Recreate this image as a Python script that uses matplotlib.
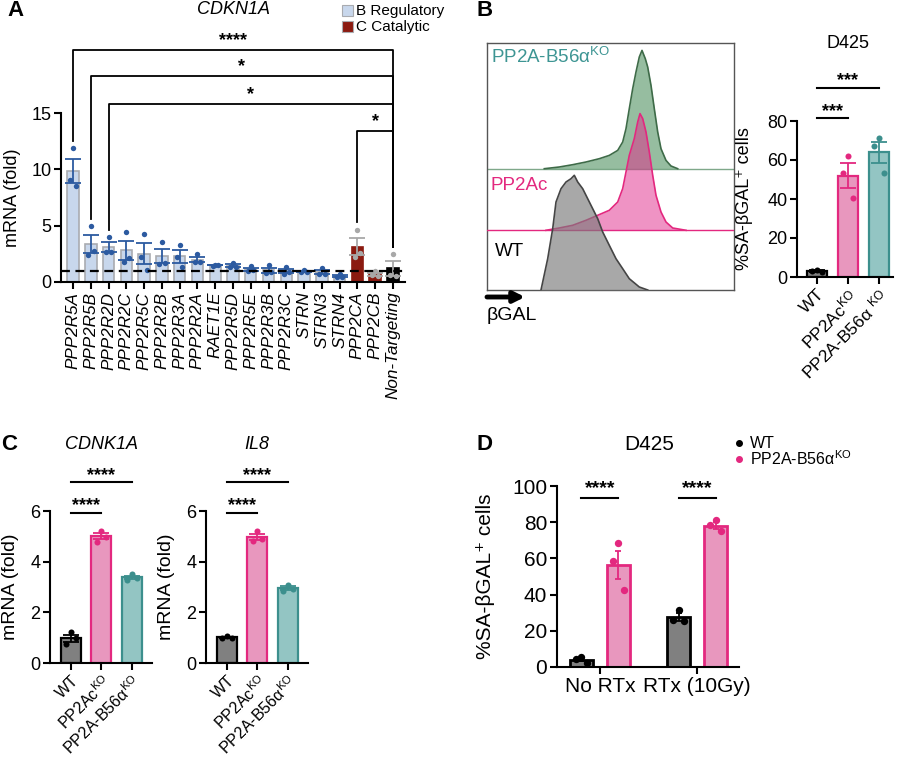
import matplotlib.pyplot as plt
import numpy as np

# ---------------- data ----------------
# panel A: CDKN1A mRNA after knockdown of each PP2A subunit (3 replicates)
genes = ['PPP2R5A', 'PPP2R5B', 'PPP2R2D', 'PPP2R2C', 'PPP2R5C', 'PPP2R2B',
         'PPP2R3A', 'PPP2R2A', 'RAET1E', 'PPP2R5D', 'PPP2R5E', 'PPP2R3B',
         'PPP2R3C', 'STRN', 'STRN3', 'STRN4', 'PPP2CA', 'PPP2CB', 'Non-Targeting']
gene_kind = ['B'] * 16 + ['C', 'C', 'NT']
cdkn1a_reps = [[11.9, 9.05, 8.55], [4.95, 2.4, 2.75], [4.0, 2.67, 2.67],
               [4.46, 1.78, 2.17], [4.22, 2.23, 1.1], [3.57, 1.64, 1.7],
               [3.24, 2.23, 1.34], [2.45, 1.75, 1.75], [1.5, 1.45, 1.5],
               [1.7, 1.3, 1.35], [1.4, 0.95, 1.05], [1.5, 0.8, 0.85],
               [1.3, 0.75, 0.85], [1.1, 0.85, 0.85], [1.2, 0.7, 0.75],
               [0.7, 0.4, 0.45], [4.65, 2.25, 2.55], [0.95, 0.65, 0.5],
               [2.45, 0.6, 0.55]]
comparisons_a = [(0, 18, '****'), (1, 18, '*'), (2, 18, '*'), (16, 18, '*')]

# panel B: flow histograms (betaGAL intensity, counts) and SA-bGAL bars
wt_hist_x = [54, 60.7, 65.7, 69, 74, 79, 84, 87.3, 90.7, 95.7, 100.7, 105.7,
             110.7, 115.7, 122.3, 129, 135.7, 142.3, 152.3, 160.7]
wt_hist_y = [0, 31.3, 61.3, 88, 101.3, 108, 111.3, 114.7, 108, 101.3, 91.3,
             81.3, 71.3, 58, 44.7, 31.3, 21.3, 11.3, 3, 0]
pc_hist_x = [59, 72.3, 85.7, 99, 112.3, 122.3, 130.7, 135.7, 139, 142.3, 147.3,
             150.7, 153, 155.7, 159, 162.3, 165.7, 169, 174, 179, 185.7, 199]
pc_hist_y = [0, 2.3, 5, 10, 15.7, 20, 28.3, 41.7, 58.3, 75, 91.7, 108.3, 116.7,
             111.7, 98.3, 78.3, 55, 35, 18.3, 8.3, 2.3, 0]
b56_hist_x = [57.3, 72.3, 85.7, 99, 112.3, 122.3, 130.7, 135.7, 139, 142.3,
              145.7, 149, 152.3, 155, 158.3, 160.7, 164, 167.3, 170.7, 174,
              179, 184, 190.7]
b56_hist_y = [0, 1.7, 4, 6.7, 10, 13.3, 18.3, 26.7, 40, 60, 80, 96.7, 111.7,
              118.3, 110, 101.7, 83.3, 60, 36.7, 20, 8.3, 2.7, 0]

ko_labels = ['WT', r'PP2Ac$^{\mathrm{KO}}$', r'PP2A-B56α $^{\mathrm{KO}}$']
ko_labels_c = ['WT', r'PP2Ac$^{\mathrm{KO}}$', r'PP2A-B56α$^{\mathrm{KO}}$']
sa_bgal_b = [[3.8, 2.9, 2.4], [62, 53.5, 40.5], [71.5, 67, 53.5]]

# panel C: qPCR
cdnk1a_c = [[1.22, 0.75, 0.98], [5.21, 4.79, 4.99], [3.5, 3.28, 3.37]]
il8_c = [[1.08, 0.98, 0.97], [5.22, 4.82, 4.88], [3.08, 2.85, 2.93]]

# panel D: SA-bGAL with / without radiation
d_conditions = ['No RTx', 'RTx (10Gy)']
d_wt = [[5.5, 4.3, 2.3], [31.5, 26.0, 25.3]]
d_b56 = [[68.4, 58.3, 42.3], [81.2, 78.2, 75.0]]

# ---------------- style ----------------
plt.rcParams['font.family'] = ['Liberation Sans', 'DejaVu Sans']
plt.rcParams['mathtext.fontset'] = 'custom'
plt.rcParams['mathtext.rm'] = 'Liberation Sans'
plt.rcParams['mathtext.it'] = 'Liberation Sans:italic'
plt.rcParams['axes.linewidth'] = 1.5

GRAY_F, GRAY_E = '#808080', 'black'
PINK_F, PINK_E = '#e897be', '#e3287f'
TEAL_F, TEAL_E = '#93c5c3', '#3c8f8d'
BREG_F, BREG_E, BREG_D = '#c8d7ec', '#a9abb0', '#2c5aa0'
CCAT_F = '#8b1a10'
LIGHT_D = '#a8a8a8'
SA_LABEL = '%SA-βGAL⁺ cells'

fig = plt.figure(figsize=(9, 7.6), dpi=100)


def px_axes(l, t, r, b):
    return fig.add_axes([l / 900, 1 - b / 760, (r - l) / 900, (b - t) / 760])


def ftext(x, y, s, **kw):
    fig.text(x / 900, 1 - y / 760, s, **kw)


def style(ax, fs):
    ax.spines['top'].set_visible(False)
    ax.spines['right'].set_visible(False)
    ax.tick_params(width=1.5, length=5, pad=2)
    ax.tick_params(axis='y', labelsize=fs)


def draw_bars(ax, xs, reps, fills, edges, dots, errs, width, lw, s):
    for x, r, fc, ec, dc, erc in zip(xs, reps, fills, edges, dots, errs):
        r = np.array(r)
        m = r.mean()
        se = r.std(ddof=1) / np.sqrt(len(r))
        ax.bar(x, m, width, color=fc, edgecolor=ec, linewidth=lw, zorder=2)
        ax.errorbar(x, m, yerr=se, color=erc, capsize=width * 9,
                    elinewidth=1.3, capthick=1.3, zorder=3)
        offs = np.array([0, -0.24, 0.24]) * width
        ax.scatter(x + offs, r, s=s, color=dc, linewidths=0, zorder=4,
                   clip_on=False)


def sig_line(ax, x1, x2, y, txt, fs, dy=5, line=True):
    if line:
        ax.plot([x1, x2], [y, y], color='black', lw=1.5, clip_on=False)
    ax.annotate(txt, ((x1 + x2) / 2, y), xytext=(0, dy),
                textcoords='offset points', ha='center', va='center',
                fontsize=fs, fontweight='bold', annotation_clip=False)


# ---------------- panel A ----------------
axA = px_axes(61, 113, 405, 282)
xa = np.arange(len(genes))
fills = [BREG_F if k == 'B' else CCAT_F if k == 'C' else 'black' for k in gene_kind]
edges = [BREG_E if k == 'B' else CCAT_F if k == 'C' else 'black' for k in gene_kind]
dots = [BREG_D if k == 'B' else LIGHT_D for k in gene_kind]
draw_bars(axA, xa, cdkn1a_reps, fills, edges, dots, dots, 0.64, 1.2, 15)
axA.axhline(1, color='black', lw=1.6, ls=(0, (4, 2.5)), zorder=5)
axA.set_xlim(-0.68, 18.68)
axA.set_ylim(0, 15)
axA.set_yticks([0, 5, 10, 15])
style(axA, 13)
axA.set_xticks(xa)
axA.set_xticklabels(genes, rotation=90, style='italic', fontsize=12.3)
axA.set_ylabel('mRNA (fold)', fontsize=13)
axA.yaxis.set_label_coords(-0.115, 0.5)
tops = [20.6, 18.3, 15.8, 13.4]
for (i, j, txt), top in zip(comparisons_a, tops):
    lb = max(cdkn1a_reps[i]) + 0.65
    rb = max(cdkn1a_reps[j]) + 0.65
    axA.plot([i, i, j, j], [lb, top, top, rb], color='black', lw=1.3,
             clip_on=False)
    sig_line(axA, i, j, top, txt, 13, dy=7, line=False)
ftext(233, 10, 'CDKN1A', ha='center', va='center', fontsize=13, style='italic')
ftext(15, 11, 'A', ha='center', va='center', fontsize=16, fontweight='bold')
for yy, col, lab in [(10.5, BREG_F, 'B Regulatory'), (26.5, CCAT_F, 'C Catalytic')]:
    fig.patches.append(plt.Rectangle((342 / 900, 1 - (yy + 5.5) / 760),
                                     11 / 900, 11 / 760, transform=fig.transFigure,
                                     facecolor=col, edgecolor='#a9abb0', lw=0.8))
    ftext(356, yy, lab, ha='left', va='center', fontsize=11)

# ---------------- panel B: histograms ----------------
axH = px_axes(487, 43, 734, 290)
axH.set_xlim(0, 247)
axH.set_ylim(0, 247)
axH.set_xticks([])
axH.set_yticks([])
for sp in axH.spines.values():
    sp.set_linewidth(1.0)
    sp.set_color('#555555')
gb, pb = 121.3, 59.7
axH.axhline(gb, color='#7fa88a', lw=1.0, zorder=1)
axH.fill_between(b56_hist_x, gb, gb + np.array(b56_hist_y), color='#5e9a6e',
                 alpha=0.65, lw=0, zorder=2)
axH.plot(b56_hist_x, gb + np.array(b56_hist_y), color='#3e6b48', lw=1.2, zorder=3)
axH.axhline(pb, color=PINK_E, lw=1.0, zorder=4)
axH.fill_between(pc_hist_x, pb, pb + np.array(pc_hist_y), color='#e0288a',
                 alpha=0.5, lw=0, zorder=5)
axH.plot(pc_hist_x, pb + np.array(pc_hist_y), color=PINK_E, lw=1.2, zorder=6)
axH.fill_between(wt_hist_x, 0, wt_hist_y, color='#7a7a7a', alpha=0.65, lw=0,
                 zorder=7)
axH.plot(wt_hist_x, wt_hist_y, color='#454545', lw=1.2, zorder=8)
axH.text(4, 233, r'PP2A-B56α$^{\mathrm{KO}}$', color='#3d9593', fontsize=13.5,
         ha='left', va='center')
axH.text(4, 105, 'PP2Ac', color=PINK_E, fontsize=13.5, ha='left', va='center')
axH.text(8, 38, 'WT', color='black', fontsize=13.5, ha='left', va='center')
axH.annotate('', xy=(38, -7), xytext=(0, -7), annotation_clip=False,
             arrowprops=dict(arrowstyle='-|>', lw=3.5, color='black',
                             mutation_scale=16, shrinkA=0, shrinkB=0))
axH.text(0, -26, 'βGAL', fontsize=14, ha='left', va='center')
ftext(485, 11, 'B', ha='center', va='center', fontsize=16, fontweight='bold')

# ---------------- panel B: bars ----------------
axB = px_axes(797, 121, 893, 277)
xb = np.arange(3)
draw_bars(axB, xb, sa_bgal_b, [GRAY_F, PINK_F, TEAL_F], [GRAY_E, PINK_E, TEAL_E],
          ['black', PINK_E, TEAL_E], [GRAY_E, PINK_E, TEAL_E], 0.64, 1.6, 19)
axB.set_xlim(-0.64, 2.45)
axB.set_ylim(0, 80)
axB.set_yticks([0, 20, 40, 60, 80])
style(axB, 13)
axB.set_xticks(xb)
axB.set_xticklabels(ko_labels, rotation=45, ha='right', va='top',
                    rotation_mode='anchor', fontsize=12.5)
axB.set_ylabel(SA_LABEL, fontsize=13)
axB.yaxis.set_label_coords(-0.46, 0.5)
sig_line(axB, 0, 1, 81.3, '***', 13)
sig_line(axB, 0, 2, 97, '***', 13)
ftext(848, 43, 'D425', ha='center', va='center', fontsize=13)

# ---------------- panel C ----------------
for l, r, reps, title, tx in [(50, 152, cdnk1a_c, 'CDNK1A', 101),
                              (206, 308, il8_c, 'IL8', 257)]:
    ax = px_axes(l, 511, r, 663)
    draw_bars(ax, xb, reps, [GRAY_F, PINK_F, TEAL_F], [GRAY_E, PINK_E, TEAL_E],
              ['black', PINK_E, TEAL_E], [GRAY_E, PINK_E, TEAL_E], 0.65, 1.6, 19)
    ax.set_xlim(-0.68, 2.66)
    ax.set_ylim(0, 6)
    ax.set_yticks([0, 2, 4, 6])
    style(ax, 13)
    ax.set_xticks(xb)
    ax.set_xticklabels(ko_labels_c, rotation=45, ha='right', va='top',
                       rotation_mode='anchor', fontsize=11.5)
    ax.set_ylabel('mRNA (fold)', fontsize=14)
    ax.yaxis.set_label_coords(-31 / (r - l), 0.5)
    sig_line(ax, 0, 1, 5.93, '****', 13)
    sig_line(ax, 0, 2, 7.14, '****', 13)
    ftext(tx, 444, title, ha='center', va='center', fontsize=13, style='italic')
ftext(9, 445, 'C', ha='center', va='center', fontsize=16, fontweight='bold')

# ---------------- panel D ----------------
axD = px_axes(557, 486, 739, 667)
xd = np.arange(len(d_conditions))
draw_bars(axD, xd - 0.19, d_wt, [GRAY_F] * 2, [GRAY_E] * 2, ['black'] * 2,
          [GRAY_E] * 2, 0.24, 2.0, 28)
draw_bars(axD, xd + 0.19, d_b56, [PINK_F] * 2, [PINK_E] * 2, [PINK_E] * 2,
          [PINK_E] * 2, 0.24, 2.0, 28)
axD.set_xlim(-0.44, 1.43)
axD.set_ylim(0, 100)
axD.set_yticks([0, 20, 40, 60, 80, 100])
style(axD, 15)
axD.set_xticks(xd)
axD.set_xticklabels(d_conditions, fontsize=15)
axD.set_ylabel(SA_LABEL, fontsize=15)
axD.yaxis.set_label_coords(-(557 - 495) / 182, 0.5)
for x in xd:
    sig_line(axD, x - 0.19, x + 0.19, 93.2, '****', 14, dy=7)
ftext(649, 445, 'D425', ha='center', va='center', fontsize=15)
ftext(485, 445, 'D', ha='center', va='center', fontsize=16, fontweight='bold')
fig.lines.append(plt.Line2D([739 / 900], [1 - 443 / 760], marker='o', ms=4,
                            color='black', transform=fig.transFigure))
fig.lines.append(plt.Line2D([739 / 900], [1 - 459 / 760], marker='o', ms=4,
                            color=PINK_E, transform=fig.transFigure))
ftext(750, 443, 'WT', ha='left', va='center', fontsize=11.5)
ftext(750, 459, r'PP2A-B56α$^{\mathrm{KO}}$', ha='left', va='center', fontsize=11.5)

fig.savefig('out.png', dpi=100)
